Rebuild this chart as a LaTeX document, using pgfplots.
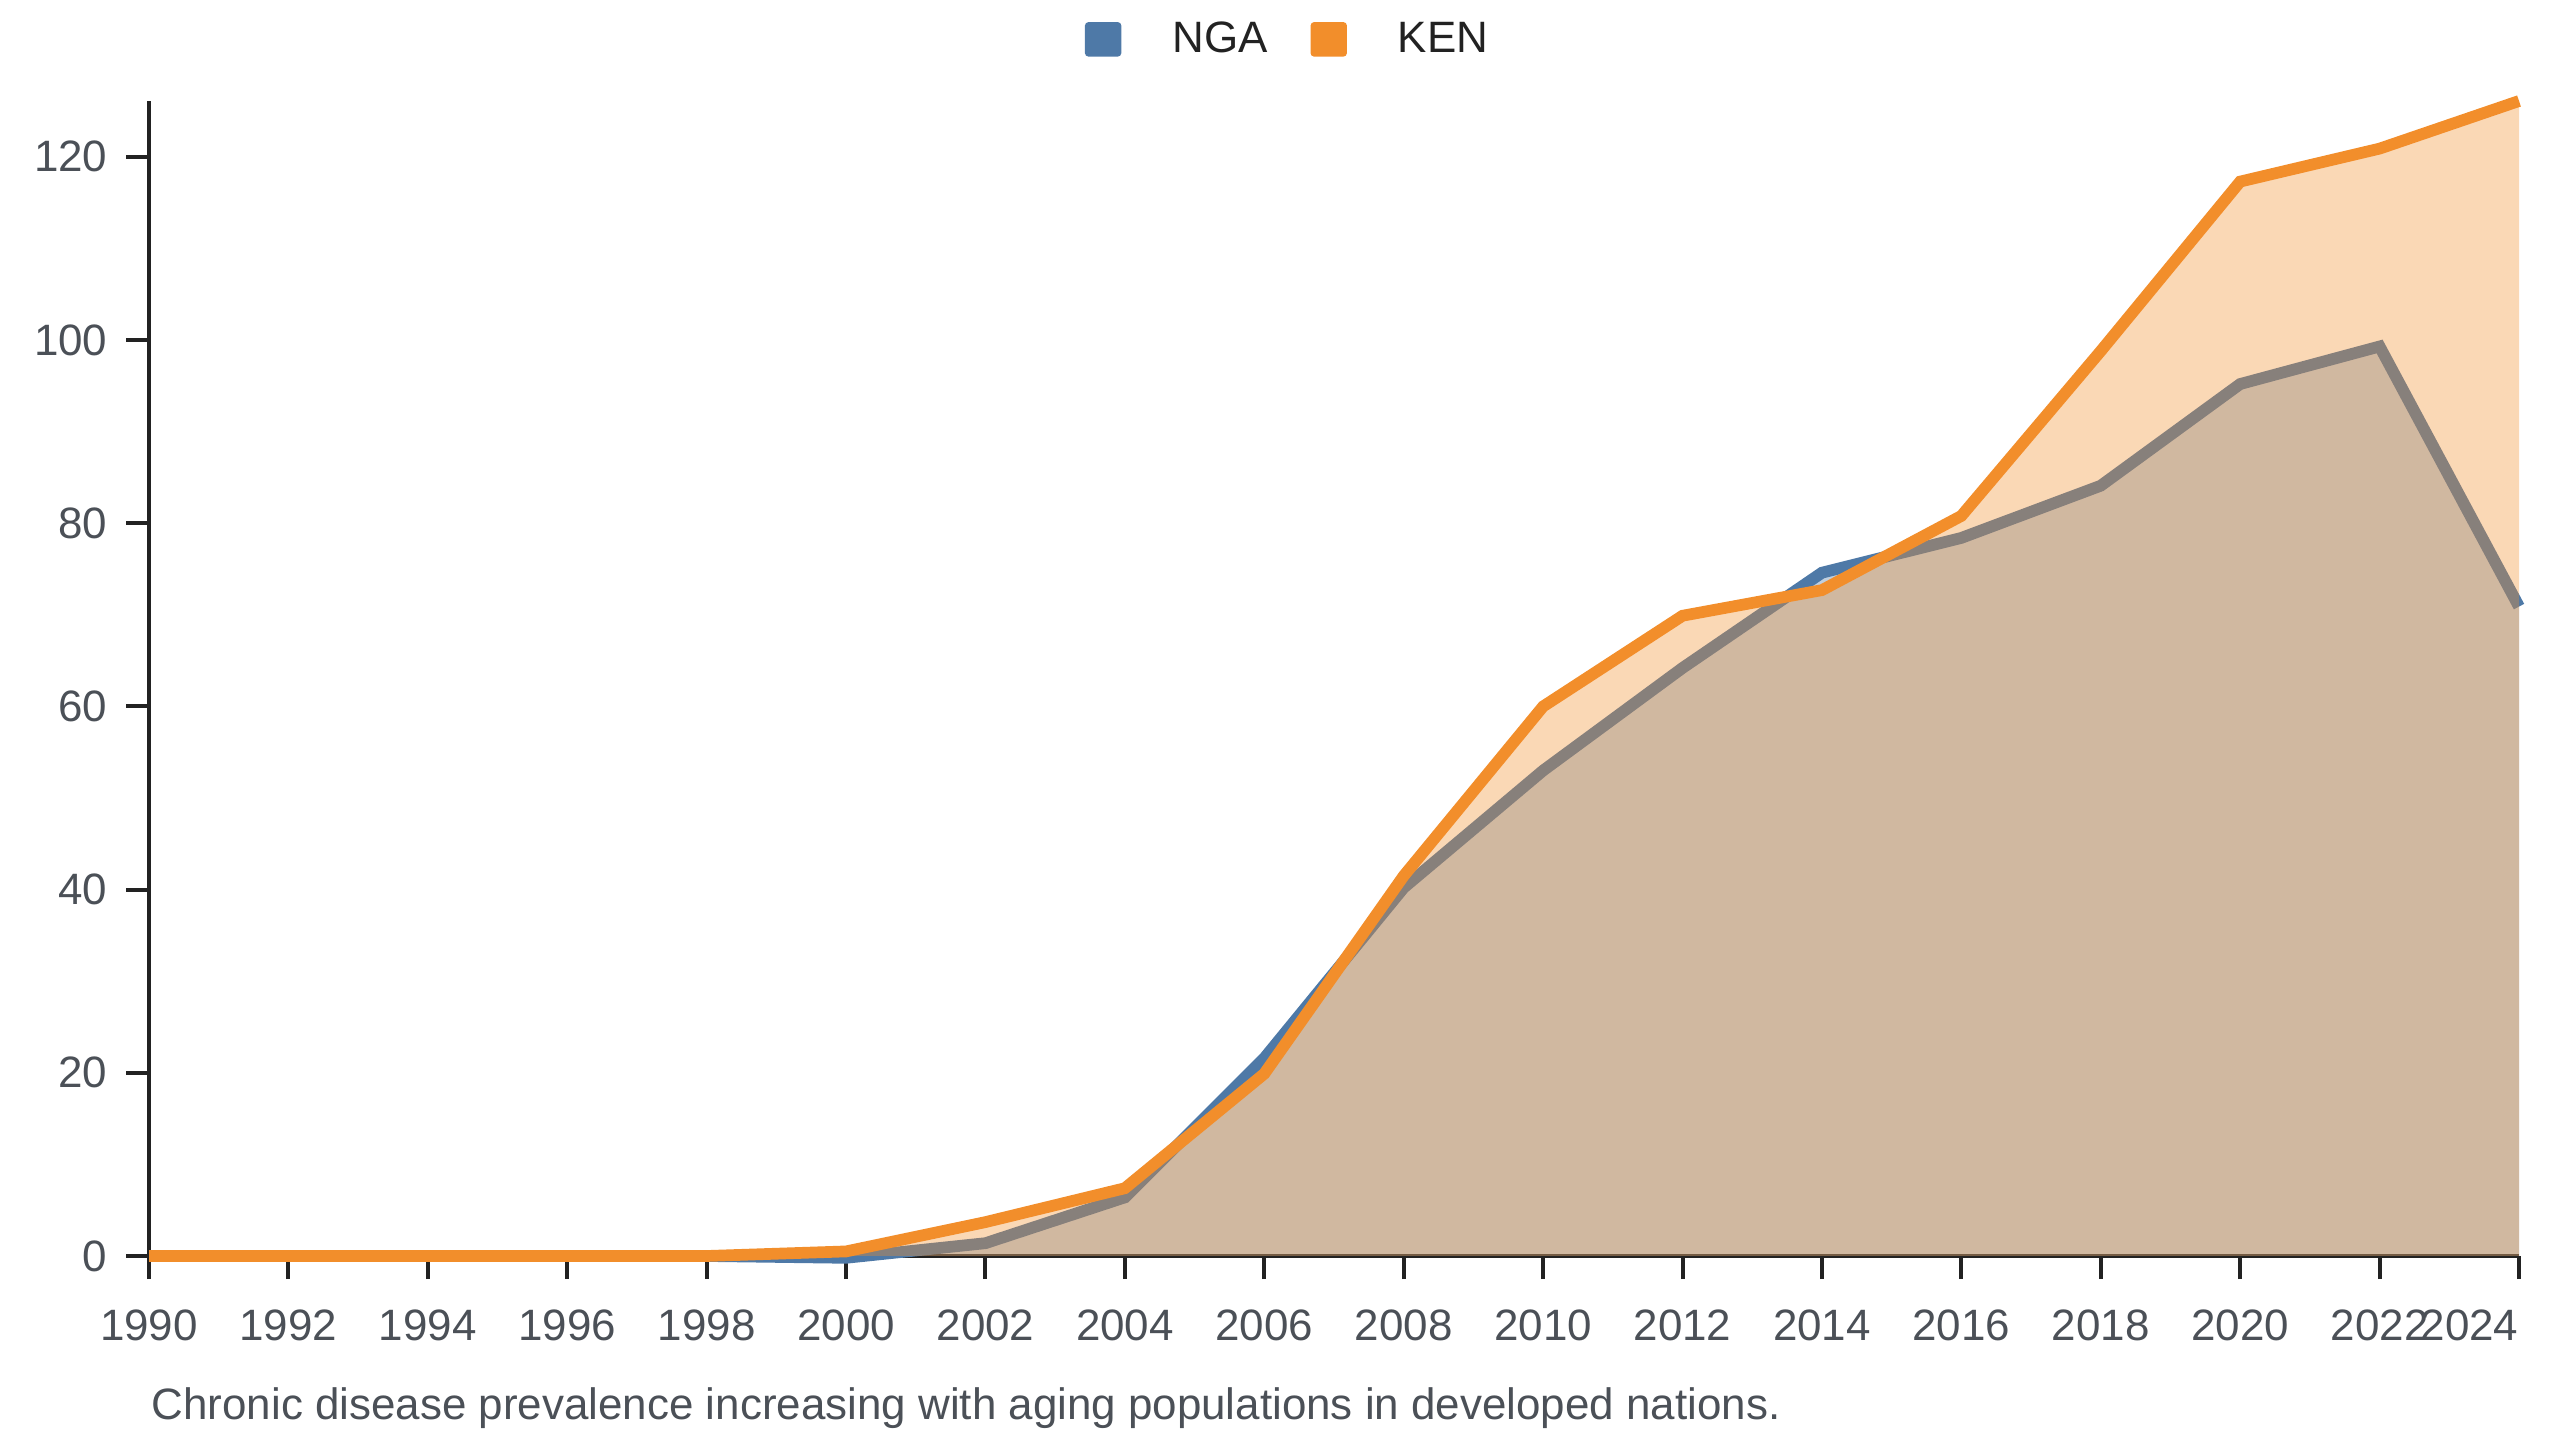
\documentclass[border=0pt]{standalone}
\usepackage{fontspec}
\setmainfont{Liberation Sans}
\usepackage{pgfplots}
\usepackage{pgfplotstable}
\pgfplotsset{compat=1.18}
\definecolor{nga}{HTML}{4E79A7}
\definecolor{ken}{HTML}{F28E2B}
\definecolor{axc}{HTML}{222222}
\definecolor{tkc}{HTML}{4B5057}
\pgfplotstableread{
year nga ken
1990 0 0
1992 0 0
1994 0 0
1996 0 0
1998 0 0
2000 -0.2 0.5
2002 1.4 3.7
2004 6.4 7.4
2006 21.6 19.9
2008 40.2 41.5
2010 53.0 60.0
2012 64.2 69.9
2014 74.6 72.7
2016 78.4 80.8
2018 84.1 98.8
2020 95.2 117.3
2022 99.3 120.9
2024 70.9 126.1
}\datatable
\begin{document}
\begin{tikzpicture}[x=1cm,y=1cm]
\path[use as bounding box] (0,0) rectangle (25.6,14.4);
\begin{axis}[
  at={(1.49cm,1.84cm)}, anchor=south west,
  scale only axis, width=23.70cm, height=11.55cm,
  xmin=1990, xmax=2024, ymin=0, ymax=126.1,
  axis lines*=left,
  axis line style={line width=0.04cm, color=axc},
  tick align=outside,
  major tick length=0.23cm,
  tick style={line width=0.04cm, color=axc},
  xtick={1990,1992,...,2022},
  extra x ticks={2024},
  extra x tick style={xticklabel style={anchor=north east}},
  ytick={0,20,...,120},
  /pgf/number format/assume math mode=true,
  /pgf/number format/1000 sep={},
  ticklabel style={font=\fontsize{12.5}{14}\selectfont, text=tkc},
  xticklabel style={inner sep=0pt, yshift=-0.30cm},
  yticklabel style={inner sep=0pt, xshift=-0.18cm},
  clip=false,
  legend style={at={(0.480,1.053)}, anchor=center, draw=none, fill=none,
    font=\fontsize{12.5}{14}\selectfont, text=axc,
    column sep=0pt, /tikz/every even column/.append style={column sep=0.43cm},
    nodes={inner sep=0pt}},
  legend columns=2,
]
\addplot[draw=none, fill=nga, fill opacity=0.36, forget plot] table[x=year,y=nga] {\datatable} \closedcycle;
\addplot[nga, line width=0.117cm, forget plot] table[x=year,y=nga] {\datatable};
\addplot[draw=none, fill=ken, fill opacity=0.35, forget plot] table[x=year,y=ken] {\datatable} \closedcycle;
\addplot[ken, line width=0.117cm, forget plot] table[x=year,y=ken] {\datatable};
\addlegendimage{legend image code/.code={\fill[nga, rounded corners=0.03cm] (0,-0.18cm) rectangle (0.35cm,0.17cm); \path (0.86cm,0);}}
\addlegendentry{NGA}
\addlegendimage{legend image code/.code={\fill[ken, rounded corners=0.03cm] (0,-0.18cm) rectangle (0.35cm,0.17cm); \path (0.86cm,0);}}
\addlegendentry{KEN}
\end{axis}
\node[anchor=base west, inner sep=0pt, text=tkc, font=\fontsize{12.5}{14}\selectfont] at (1.51,0.21) {Chronic disease prevalence increasing with aging populations in developed nations.};
\end{tikzpicture}
\end{document}
